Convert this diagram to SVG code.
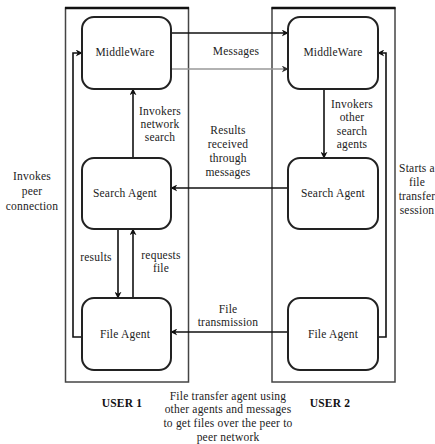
<svg xmlns="http://www.w3.org/2000/svg" width="435" height="444" viewBox="0 0 435 444" font-family="'Liberation Serif', 'Times New Roman', serif">
<defs>
<style>
text{font-family:'Liberation Serif','Times New Roman',serif;font-size:11.5px;fill:#222;text-anchor:middle;letter-spacing:0.2px}
.b{font-weight:bold;fill:#111}
.node{fill:#fff;stroke:#222;stroke-width:2}
.outer{fill:none;stroke:#444;stroke-width:1.5}
.c{fill:none;stroke:#111;stroke-width:1.6}
.g{fill:none;stroke:#999;stroke-width:1.6}
</style>
<marker id="ah" viewBox="0 0 10 10" refX="9" refY="5" markerWidth="7" markerHeight="7" markerUnits="userSpaceOnUse" orient="auto">
<path d="M0,0 L10,5 L0,10 L3,5 Z" fill="#111"/>
</marker>
<marker id="ahg" viewBox="0 0 10 10" refX="9" refY="5" markerWidth="7" markerHeight="7" markerUnits="userSpaceOnUse" orient="auto">
<path d="M0,0 L10,5 L0,10 L3,5 Z" fill="#333"/>
</marker>
</defs>
<g id="user1">
<rect class="outer" x="65.5" y="8" width="123" height="374"/>
<line x1="65" y1="8" x2="189" y2="8" stroke="#111" stroke-width="2.5"/>
<text class="b" x="122" y="407">USER 1</text>
</g>
<g id="user2">
<rect class="outer" x="272" y="8" width="123" height="374"/>
<line x1="271.5" y1="8" x2="395.5" y2="8" stroke="#111" stroke-width="2.5"/>
<text class="b" x="330" y="407">USER 2</text>
</g>
<g id="connectors">
<line class="c" x1="171" y1="33" x2="288" y2="33" marker-end="url(#ah)"/>
<line class="g" x1="171" y1="69" x2="288" y2="69" marker-end="url(#ahg)"/>
<line class="c" x1="133" y1="158" x2="133" y2="89" marker-end="url(#ah)"/>
<line class="c" x1="324" y1="89" x2="324" y2="158" marker-end="url(#ah)"/>
<line class="c" x1="288" y1="188" x2="171" y2="188" marker-end="url(#ah)"/>
<line class="c" x1="118" y1="229" x2="118" y2="298" marker-end="url(#ah)"/>
<line class="c" x1="133" y1="298" x2="133" y2="229" marker-end="url(#ah)"/>
<line class="c" x1="288" y1="332" x2="171" y2="332" marker-end="url(#ah)"/>
<polyline class="c" points="82,337 73,337 73,53 82,53" marker-end="url(#ah)"/>
<polyline class="c" points="378,337 386,337 386,53 378,53" stroke-width="2" marker-end="url(#ah)"/>
<text x="236" y="55">Messages</text>
<text x="160" y="115">Invokers</text>
<text x="160" y="128">network</text>
<text x="160" y="141">search</text>
<text x="352" y="108">Invokers</text>
<text x="352" y="121">other</text>
<text x="352" y="135">search</text>
<text x="352" y="148">agents</text>
<text x="228" y="134">Results</text>
<text x="228" y="148">received</text>
<text x="228" y="162">through</text>
<text x="228" y="176">messages</text>
<text x="96" y="261">results</text>
<text x="161" y="259">requests</text>
<text x="161" y="272">file</text>
<text x="228" y="313">File</text>
<text x="228" y="326">transmission</text>
<text x="32" y="180">Invokes</text>
<text x="32" y="195">peer</text>
<text x="32" y="210">connection</text>
<text x="417" y="172">Starts a</text>
<text x="417" y="186">file</text>
<text x="417" y="200">transfer</text>
<text x="417" y="214">session</text>
<text x="228" y="400">File transfer agent using</text>
<text x="228" y="413">other agents and messages</text>
<text x="228" y="427">to get files over the peer to</text>
<text x="228" y="441">peer network</text>
</g>
<g id="mw1"><rect class="node" x="82" y="17" width="89" height="72" rx="12"/><text x="125" y="56">MiddleWare</text></g>
<g id="mw2"><rect class="node" x="288" y="17" width="90" height="72" rx="12"/><text x="333" y="56">MiddleWare</text></g>
<g id="sa1"><rect class="node" x="82" y="158" width="89" height="71" rx="12"/><text x="125" y="197">Search Agent</text></g>
<g id="sa2"><rect class="node" x="288" y="158" width="90" height="71" rx="12"/><text x="333" y="197">Search Agent</text></g>
<g id="fa1"><rect class="node" x="82" y="298" width="89" height="72" rx="12"/><text x="125" y="338">File Agent</text></g>
<g id="fa2"><rect class="node" x="288" y="298" width="90" height="72" rx="12"/><text x="333" y="338">File Agent</text></g>
</svg>
